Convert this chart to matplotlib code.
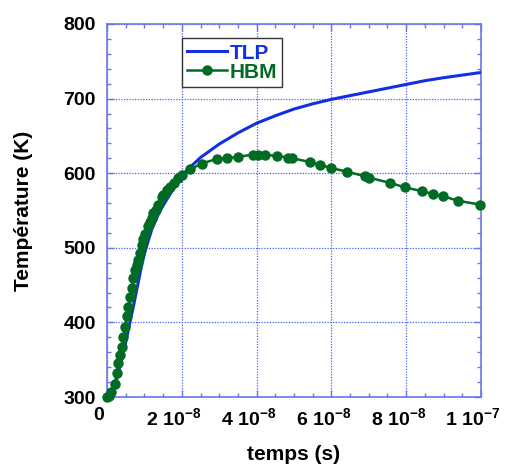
import matplotlib
matplotlib.use("Agg")
import matplotlib.pyplot as plt
from matplotlib.ticker import MultipleLocator, FixedLocator, FixedFormatter
import matplotlib.transforms as mtransforms
import numpy as np

plt.rcParams['font.family'] = ['Liberation Sans', 'DejaVu Sans']
plt.rcParams['font.weight'] = 'bold'
plt.rcParams['mathtext.fontset'] = 'custom'
plt.rcParams['mathtext.rm'] = 'Liberation Sans:bold'
plt.rcParams['mathtext.bf'] = 'Liberation Sans:bold'
plt.rcParams['mathtext.default'] = 'rm'

# TLP curve (time in units of 1e-8 s, temperature K)
tlp_t = [0, 0.1, 0.2, 0.3, 0.4, 0.5, 0.6, 0.7, 0.8, 0.9, 1.0, 1.1, 1.2, 1.4, 1.6,
         1.8, 2.0, 2.2, 2.5, 3.0, 3.5, 4.0, 4.5, 5.0, 5.5, 6.0, 6.5, 7.0, 7.5,
         8.0, 8.5, 9.0, 9.5, 10.0]
tlp_T = [300, 303, 312, 332, 352, 373, 397, 420, 445, 470, 492, 509, 525, 548, 565,
         581, 597, 607, 621, 639, 654, 667, 677, 686, 693, 699, 704, 709, 714,
         719, 724, 728, 731.5, 735]

# HBM curve
hbm_t = [0.0, 0.06, 0.12, 0.21, 0.26, 0.30, 0.35, 0.39, 0.44, 0.48, 0.53, 0.57,
         0.61, 0.66, 0.70, 0.75, 0.79, 0.84, 0.88, 0.93, 0.97, 1.02, 1.10, 1.15,
         1.19, 1.24, 1.30, 1.37, 1.46, 1.51, 1.60, 1.68, 1.80, 1.91, 2.0, 2.22,
         2.53, 2.93, 3.2, 3.51, 3.91, 4.05, 4.22, 4.54, 4.85, 4.95, 5.43, 5.7,
         6.0, 6.41, 6.9, 7.0, 7.57, 7.97, 8.41, 8.72, 8.99, 9.39, 9.97]
hbm_T = [300, 302, 307, 318, 332, 345, 356, 367, 381, 394, 408, 421,
         434, 446, 459, 470, 477, 484, 493, 504, 512, 518, 529, 534,
         540, 546, 551, 557, 568, 571, 577, 581, 587, 593, 598, 605,
         613, 619, 620, 622, 625, 625, 625, 623, 621, 620, 615, 611,
         607, 602, 596, 594, 587, 581, 576, 572, 569, 563, 558]

x_ticks = [0, 2e-8, 4e-8, 6e-8, 8e-8, 1e-7]
x_labels = ["0", r"2 10$^{-8}$", r"4 10$^{-8}$", r"6 10$^{-8}$", r"8 10$^{-8}$", r"1 10$^{-7}$"]
y_ticks = [300, 400, 500, 600, 700, 800]

blue = "#1230e2"
green = "#006b22"
spine_c = "#6878e6"
grid_c = "#4a5ef0"

fig = plt.figure(figsize=(5.06, 4.66), dpi=100)
ax = fig.add_axes([107/506, 1-397/466, 374/506, 373/466])

ax.plot(np.array(tlp_t)*1e-8, tlp_T, color=blue, lw=2.2, label="TLP", zorder=3)
ax.plot(np.array(hbm_t)*1e-8, hbm_T, color=green, lw=1.8, marker='o', ms=6.5,
        label="HBM", zorder=4, clip_on=False)

ax.set_xlim(0, 1e-7)
ax.set_ylim(300, 800)
ax.xaxis.set_major_locator(FixedLocator(x_ticks))
ax.xaxis.set_major_formatter(FixedFormatter(x_labels))
ax.xaxis.set_minor_locator(MultipleLocator(0.5e-8))
ax.yaxis.set_major_locator(FixedLocator(y_ticks))
ax.yaxis.set_minor_locator(MultipleLocator(20))

ax.grid(True, which='major', color=grid_c, linestyle=(0, (1, 1.2)), lw=0.9)
for s in ax.spines.values():
    s.set_color(spine_c)
    s.set_linewidth(1.2)
ax.tick_params(which='both', direction='in', top=True, right=True, color=spine_c,
               labelsize=14, width=1.0)
ax.tick_params(which='major', length=5)
ax.tick_params(which='minor', length=3)
ax.tick_params(axis='x', pad=7)
ax.tick_params(axis='y', pad=8)
for lab in ax.get_xticklabels() + ax.get_yticklabels():
    lab.set_fontweight('bold')
off = mtransforms.ScaledTranslation(-8/100, 0, fig.dpi_scale_trans)
for lab in ax.get_xticklabels():
    lab.set_transform(lab.get_transform() + off)

ax.set_xlabel("temps (s)", fontsize=15, fontweight='bold')
ax.set_ylabel("Température (K)", fontsize=15, fontweight='bold')
ax.xaxis.set_label_coords(0.5, (397-445)/373)
ax.yaxis.set_label_coords((33-107)/374, 0.5)

leg = ax.legend(loc='upper left', bbox_to_anchor=(0.2, (397-38.3)/373),
                prop={'size': 15, 'weight': 'bold'}, fancybox=False,
                edgecolor='#333333', framealpha=1, handlelength=1.9,
                handletextpad=0.15, labelspacing=0.0, borderpad=0.25,
                borderaxespad=0)
leg.get_frame().set_linewidth(1.0)
for txt, c in zip(leg.get_texts(), [blue, green]):
    txt.set_color(c)

fig.savefig("out.png", dpi=100)
